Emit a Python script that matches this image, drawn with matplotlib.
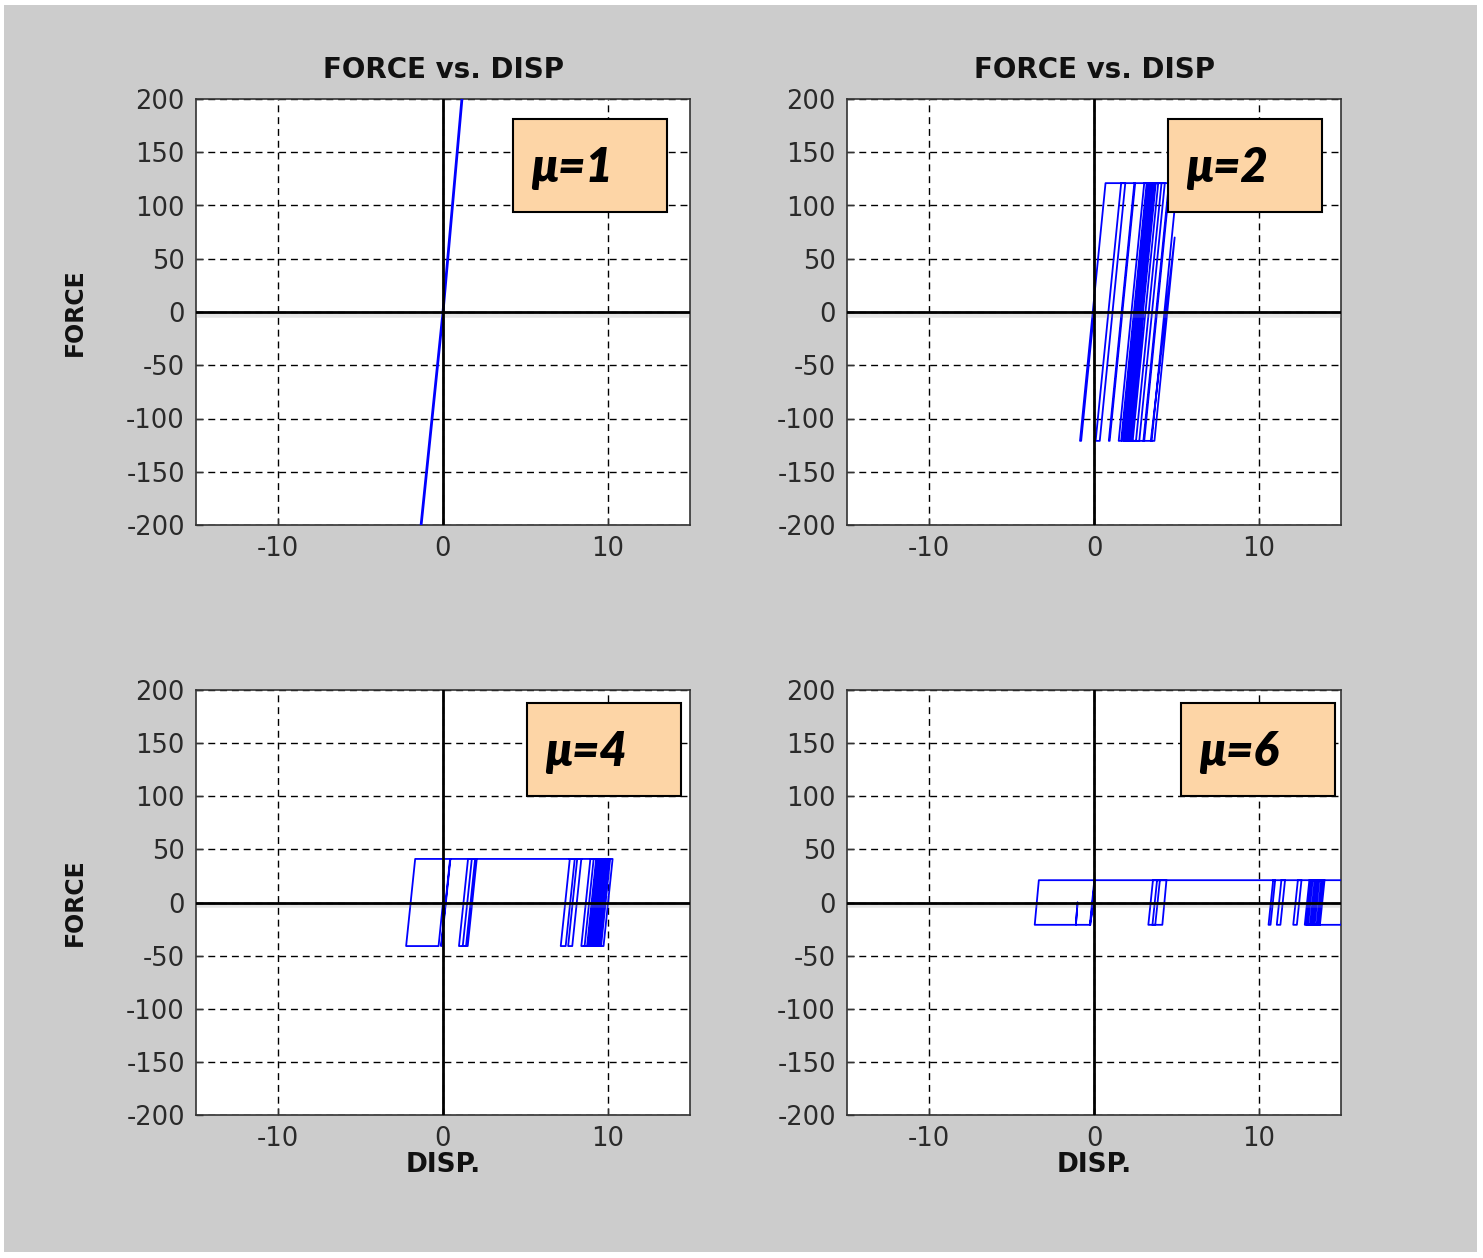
import matplotlib
matplotlib.use("Agg")
import matplotlib.pyplot as plt
from matplotlib.patches import Rectangle
import matplotlib.patheffects as pe

plt.rcParams["axes.unicode_minus"] = False

W, H = 1483, 1258

# ---------------- data ----------------
titles = ["FORCE vs. DISP", "FORCE vs. DISP", "", ""]
mu_labels = ["μ=1", "μ=2", "μ=4", "μ=6"]
x_ticks = [-10, 0, 10]
y_ticks = [-200, -150, -100, -50, 0, 50, 100, 150, 200]

# mu = 1 : elastic response
disp_mu1 = [-1.33, 0.0, 1.15]
force_mu1 = [-200, 0, 200]

# mu = 2 : hysteresis path vertices
disp_mu2 = [0.00, -0.78, -0.85, 0.70, 1.90, 0.35, 0.10, 1.65, 2.50, 0.95,
            0.90, 2.45, 3.20, 1.65, 1.50, 3.05, 3.60, 2.05, 1.70, 3.25,
            4.30, 2.75, 2.00, 3.55, 3.70, 2.15, 1.80, 3.35, 5.05, 3.50,
            3.45, 4.90, 3.67, 3.00, 4.55, 4.60, 3.05, 2.00, 3.55, 3.65,
            2.10, 1.90, 3.45, 3.90, 2.35, 1.85, 3.40, 3.75, 2.20, 2.05,
            2.75, 2.55, 2.95, 2.70, 3.10, 2.85, 3.30, 4.10, 2.55, 2.25,
            2.60, 2.40, 2.90, 2.65, 3.00]
force_mu2 = [0, -121, -121, 121, 121, -121, -121, 121, 121, -121,
             -121, 121, 121, -121, -121, 121, 121, -121, -121, 121,
             121, -121, -121, 121, 121, -121, -121, 121, 121, -121,
             -121, 70, -121, -121, 121, 121, -121, -121, 121, 121,
             -121, -121, 121, 121, -121, -121, 121, 121, -121, -121,
             -35, -66, 0, -40, 30, -10, 121, 121, -121, -121,
             -66, -100, -20, -60, 0]

# mu = 4 : hysteresis path vertices
disp_mu4 = [0.00, -0.27, -2.24, -1.69, 0.45, -0.10, -0.12, 0.43, 1.95, 1.40,
            0.97, 1.52, 2.05, 1.50, 1.20, 1.75, 8.00, 7.45, 7.15, 7.70, 8.40,
            7.85, 7.60, 8.15, 9.30, 8.75, 8.40, 8.95, 10.30, 9.75, 8.60, 9.15,
            9.60, 9.05, 8.80, 9.35, 9.90, 9.35, 8.90, 9.45, 10.05, 9.50, 9.00,
            9.55, 9.80, 9.25, 8.95, 9.50, 10.15, 9.60, 9.10, 9.65, 9.95, 9.40,
            9.20, 9.75, 9.85, 9.30, 9.05, 9.35, 9.25, 9.60, 9.45, 9.90]
force_mu4 = [0, -41, -41, 41, 41, -41, -41, 41, 41, -41,
             -41, 41, 41, -41, -41, 41, 41, -41, -41, 41, 41,
             -41, -41, 41, 41, -41, -41, 41, 41, -41, -41, 41,
             41, -41, -41, 41, 41, -41, -41, 41, 41, -41, -41,
             41, 41, -41, -41, 41, 41, -41, -41, 41, 41, -41,
             -41, 41, 41, -41, -41, -10, -25, 15, -5, 41]

# mu = 6 : hysteresis path vertices
disp_mu6 = [0.00, -0.25, -1.10, -1.00, -1.10, -3.60, -3.35, 0.05, -0.22, -0.25,
            0.02, 4.40, 4.15, 3.30, 3.58, 4.00, 3.72, 3.55, 3.83, 11.00, 10.72,
            10.60, 10.88, 11.60, 11.32, 11.10, 11.38, 12.60, 12.32, 12.10,
            12.38, 13.40, 13.12, 12.80, 13.08, 13.80, 13.52, 13.20, 13.48,
            14.00, 13.72, 13.40, 13.68, 15.30, 15.02, 12.90, 13.18, 13.60,
            13.32, 13.00, 13.28, 13.90, 13.62, 13.30, 13.58]
force_mu6 = [0, -21, -21, 0, -21, -21, 21, 21, -21, -21,
             21, 21, -21, -21, 21, 21, -21, -21, 21, 21, -21,
             -21, 21, 21, -21, -21, 21, 21, -21, -21,
             21, 21, -21, -21, 21, 21, -21, -21, 21,
             21, -21, -21, 21, 21, -21, -21, 21, 21,
             -21, -21, 21, 21, -21, -21, 21]

series = [(disp_mu1, force_mu1), (disp_mu2, force_mu2),
          (disp_mu4, force_mu4), (disp_mu6, force_mu6)]

# ---------------- layout ----------------
def fx(px):
    return px / W

def fy(py):
    return 1 - py / H

axes_px = [(196, 99, 690, 525), (847, 99, 1341, 525),
           (196, 690, 690, 1115), (847, 690, 1341, 1115)]
box_px = [(513, 119, 667, 212), (1168, 119, 1322, 212),
          (527, 703, 681, 796), (1181, 703, 1335, 796)]

fig = plt.figure(figsize=(W / 100, H / 100), dpi=100, facecolor="white")
fig.add_artist(Rectangle((fx(4), fy(1252)), fx(1477) - fx(4), fy(5) - fy(1252),
                         transform=fig.transFigure, facecolor="#cccccc",
                         edgecolor="none", zorder=-10))

tick_color = "#2a2a2a"
for i, (x0, y0, x1, y1) in enumerate(axes_px):
    ax = fig.add_axes([fx(x0), fy(y1), fx(x1) - fx(x0), fy(y0) - fy(y1)])
    ax.set_facecolor("white")
    ax.set_xlim(-15, 15)
    ax.set_ylim(-200, 200)
    ax.set_xticks(x_ticks)
    ax.set_yticks(y_ticks)
    ax.tick_params(direction="in", length=5, width=1, colors="#333333",
                   labelsize=18.5, labelcolor=tick_color, pad=8)
    for lab in ax.get_xticklabels() + ax.get_yticklabels():
        lab.set_family("DejaVu Sans")
    ax.grid(True, color="black", linestyle=(0, (5, 3.5)), linewidth=1.0)
    for s in ax.spines.values():
        s.set_color("#333333")
        s.set_linewidth(1.2)

    d, f = series[i]
    ax.plot(d, f, color="#0000ff", linewidth=2.0 if i == 0 else 1.3, zorder=3)

    shadow = [pe.SimpleLineShadow(offset=(0, -2.0), shadow_color="#999999",
                                  alpha=0.25, linewidth=4), pe.Normal()]
    ax.axhline(0, color="black", linewidth=2.0, zorder=4, path_effects=shadow)
    ax.axvline(0, color="black", linewidth=2.0, zorder=4)

    if titles[i]:
        fig.text(fx((x0 + x1) / 2), fy(70), titles[i], ha="center", va="center",
                 fontsize=20, fontweight="bold", family="DejaVu Sans",
                 color="#111111")
    if i in (0, 2):
        fig.text(fx(75), fy((y0 + y1) / 2), "FORCE", ha="center", va="center",
                 rotation=90, fontsize=17, fontweight="bold",
                 family="DejaVu Sans", color="#111111")
    if i in (2, 3):
        fig.text(fx((x0 + x1) / 2), fy(1165), "DISP.", ha="center", va="center",
                 fontsize=19, fontweight="bold", family="DejaVu Sans",
                 color="#111111")

    bx0, by0, bx1, by1 = box_px[i]
    fig.add_artist(Rectangle((fx(bx0), fy(by1)), fx(bx1) - fx(bx0),
                             fy(by0) - fy(by1), transform=fig.transFigure,
                             facecolor="#fdd5a6", edgecolor="black",
                             linewidth=1.5, zorder=20))
    fig.text(fx(bx0 + 18), fy((by0 + by1) / 2 + 2), mu_labels[i], ha="left",
             va="center", fontsize=34, fontweight="heavy", style="italic",
             family=["Lato", "DejaVu Sans"], color="black", zorder=21)

fig.savefig("out.png", dpi=100, facecolor=fig.get_facecolor())
